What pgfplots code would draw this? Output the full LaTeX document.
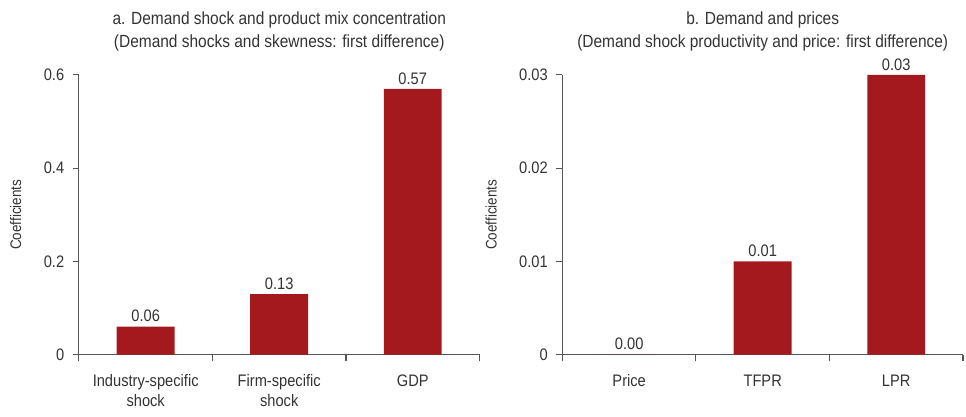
\documentclass[border=0pt]{standalone}
\usepackage{pgfplots}
\pgfplotsset{compat=1.18}
\usepackage{fontspec}
\setmainfont[FakeStretch=0.88]{Liberation Sans}
\definecolor{barred}{HTML}{A4191E}
\definecolor{txt}{HTML}{333333}
\definecolor{axcol}{HTML}{555555}

\pgfplotsset{
  panel/.style={
    width=300.75pt, height=210pt,
    scale only axis,
    ybar, bar width=43.5pt,
    xmin=0.5, xmax=3.5,
    ymin=0,
    axis x line*=bottom, axis y line*=left,
    axis line style={draw=axcol, line width=0.8pt, -},
    tick align=outside,
    xtick={1,2,3},
    major x tick style={draw=none},
    minor xtick={0.5,1.5,2.5,3.5},
    minor x tick style={draw=axcol, line width=0.8pt},
    minor tick length=5pt,
    major tick length=4.5pt,
    ytick style={draw=axcol, line width=0.8pt},
    scaled y ticks=false,
    /pgf/number format/assume math mode=true,
    ticklabel style={font=\fontsize{12.5}{15}\selectfont, text=txt},
    x tick label style={align=center, yshift=-7pt},
    y tick label style={xshift=-3pt},
    title style={font=\fontsize{13.2}{17.5}\selectfont, text=txt, align=center, yshift=8pt},
    ylabel style={font=\fontsize{11.5}{13}\selectfont, text=txt},
    ylabel={Coefficients},
    ylabel shift=10pt,
    nodes near coords,
    every node near coord/.append style={font=\fontsize{12.5}{15}\selectfont, text=txt,
      /pgf/number format/fixed, /pgf/number format/fixed zerofill,
      /pgf/number format/precision=2, /pgf/number format/assume math mode=true},
    clip=false,
  }
}

\begin{document}
\begin{tikzpicture}
\begin{axis}[panel, at={(0pt,0pt)},
    ymax=0.6,
    ytick={0,0.2,0.4,0.6},
    yticklabels={0,0.2,0.4,0.6},
    xticklabels={Industry-specific\\shock, Firm-specific\\shock, GDP},
    title={a. Demand shock and product mix concentration\\(Demand shocks and skewness: first difference)},
]
\addplot[fill=barred, draw=none] coordinates {(1,0.06) (2,0.13) (3,0.57)};
\end{axis}
\begin{axis}[panel, at={(363pt,0pt)},
    ymax=0.03,
    ytick={0,0.01,0.02,0.03},
    yticklabels={0,0.01,0.02,0.03},
    xticklabels={Price, TFPR, LPR},
    title={b. Demand and prices\\(Demand shock productivity and price: first difference)},
]
\addplot[fill=barred, draw=none] coordinates {(1,0) (2,0.01) (3,0.03)};
\end{axis}
% page margins as in the reference
\path (-59.25pt,-46.5pt) (666pt,266.25pt);
\end{tikzpicture}
\end{document}
